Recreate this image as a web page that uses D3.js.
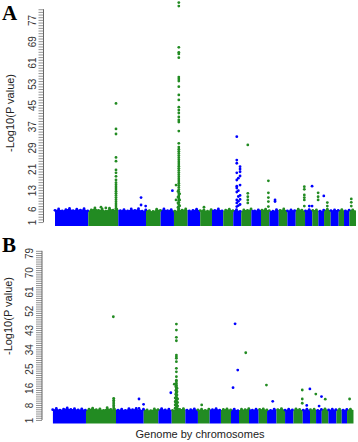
<!DOCTYPE html>
<html>
<head>
<meta charset="utf-8">
<script src="https://cdn.jsdelivr.net/npm/d3@7"></script>
<style>
  body { margin: 0; background: #fff; }
  svg text { font-family: "Liberation Sans", Arial, sans-serif; }
</style>
</head>
<body>
<div id="chart"></div>
<script>
// chromosome lengths (Mb) and alternating colours
const chromLen = [275, 248, 229, 121, 110, 113, 104, 97, 93, 83, 66, 83, 80,
                  69, 78, 71, 69, 77, 60, 50, 47, 55, 66, 44, 44, 55];
const chromColor = ["#0000FF", "#228B22"];

// y tick labels of the two panels
const ticksA = [1, 6, 13, 21, 29, 37, 45, 53, 61, 69, 77];
const ticksB = [1, 8, 16, 25, 34, 43, 52, 61, 70, 79];

// top of the dense band of non significant SNPs, one value every 30 Mb
const bandStep = 30;
const bandTopA = [5.4, 5.9, 5.2, 5.7, 6.1, 5.3, 5.8, 5.5, 6.0, 5.2, 5.6, 6.3, 5.4, 5.9,
  5.1, 6.2, 5.5, 5.8, 5.3, 5.7, 5.2, 5.9, 5.4, 6.0, 5.1, 5.6, 5.3, 5.0, 5.8, 5.4,
  5.9, 5.3, 5.7, 5.1, 5.6, 5.5, 5.9, 5.2, 5.4, 5.8, 5.3, 5.6, 5.1, 5.7, 5.4, 5.9,
  5.2, 5.5, 5.8, 5.3, 5.7, 5.0, 5.6, 5.4, 5.9, 5.2, 5.6, 5.5, 5.8, 5.3, 5.1, 5.7,
  5.4, 5.9, 5.2, 5.6, 5.3, 5.8, 5.5, 5.2, 5.7, 5.4, 5.6, 5.1, 5.5, 5.8, 5.3, 5.6,
  5.4, 5.7, 5.2, 5.5, 5.6, 5.3];
const bandTopB = [5.8, 6.4, 5.6, 6.1, 6.6, 5.9, 6.3, 5.7, 6.2, 5.6, 6.0, 6.5, 5.8, 6.2,
  5.5, 6.7, 5.9, 6.1, 5.6, 6.0, 5.5, 6.3, 5.8, 6.4, 5.5, 6.0, 5.7, 5.4, 6.2, 5.8,
  6.3, 5.7, 6.1, 5.5, 6.0, 5.9, 6.3, 5.6, 5.8, 6.2, 5.7, 6.0, 5.5, 6.1, 5.8, 6.3,
  5.6, 5.9, 6.2, 5.7, 6.1, 5.4, 6.0, 5.8, 6.3, 5.6, 6.0, 5.9, 6.2, 5.7, 5.5, 6.1,
  5.8, 6.3, 5.6, 6.0, 5.7, 6.2, 5.9, 5.6, 6.1, 5.8, 6.0, 5.5, 5.9, 6.2, 5.7, 6.0,
  5.8, 6.1, 5.6, 5.9, 6.0, 5.7];

// significant SNPs: [chromosome, position (Mb), -log10(P) values]
const hitsA = [
  [2, 229, [45.6, 36, 34.1, 25.3, 23.9, 20.6, 19.5, 18.2, 16.8, 15.8, 15, 14.2, 13.4,
            12.6, 11.8, 11, 10.2, 9.4, 8.6, 7.8, 7, 6.2]],
  [2, 105, [6.6]], [2, 145, [6.3]],
  [3, 188, [10.2, 7.4]], [3, 226, [7]],
  [5, 97, [12.8]],
  [6, 17, [14.9, 9.3]],
  [6, 40, [83.5, 82.2, 66.7, 64.8, 64.2, 62.8, 55.5, 54.8, 54, 51.9, 48.8, 46.9, 44.2,
           43.1, 42, 40.5, 39.4, 38.6, 35.2, 30.6, 29.2, 28.4, 27.6, 26.8, 26, 25.2,
           24.4, 23.6, 22.8, 22, 21.2, 20.4, 19.6, 18.8, 18, 17.2, 16.4, 15.6, 14.8,
           14, 13.2, 12.4, 11.6, 10.8, 10, 9.2, 8.4, 7.6, 6.8, 6]],
  [6, 33, [12.5, 10.4, 8.2, 6.5]], [6, 47, [11.6, 9.3, 7.1]],
  [8, 31, [6.6]],
  [11, 29, [33.1, 24.3, 23.1, 19.5, 16.8, 14.5, 13.8, 12.3, 9.3, 8.2, 6.8]],
  [11, 56, [21.8, 20.9, 19.9, 18.3, 14.9, 11, 9.5, 7.6]],
  [11, 42, [17.5, 12.8, 10.6, 8.8, 7.2]],
  [12, 54, [30, 11.8, 10.5, 9.3, 8.2]],
  [14, 61, [16.5, 12, 10.2, 8.7, 6.8]],
  [15, 47, [9.3, 8.7]],
  [18, 71, [14.3, 13.3, 11.2, 10.2, 9.3, 7]],
  [19, 35, [7]], [19, 58, [14.5, 7]],
  [20, 48, [12, 10.5, 9.3]],
  [21, 45, [10.8]],
  [22, 27, [8.3, 7]],
  [26, 16, [9.7, 8.4, 7]]
];
const hitsB = [
  [2, 226, [49.2]],
  [2, 229, [11.1, 10.2, 9.4, 8.6, 7.8, 7, 6.2]],
  [3, 190, [10.8, 6.4]], [3, 228, [8.3]],
  [5, 103, [13.7]],
  [6, 22, [17.7]],
  [6, 39, [45.8, 43, 39.6, 38, 31.3, 30.5, 29.8, 28.2, 25.1, 23.5, 21.2, 19.6, 18.8,
           18, 17.2, 16.4, 15.6, 14.8, 14, 13.2, 12.4, 11.6, 10.8, 10, 9.2, 8.4, 7.6,
           6.8, 6]],
  [6, 34, [16.5, 14.8, 13, 11.4, 9.8, 8.2, 6.6]], [6, 44, [15.8, 14.2, 12.6, 11, 9.4, 7.8, 6.4]],
  [6, 29, [11.2, 9.5, 8, 6.5]], [6, 49, [10.8, 9.1, 7.5, 6.2]],
  [8, 31, [8]],
  [11, 34, [45.9]], [11, 56, [24.3]], [11, 17, [16.1]],
  [12, 56, [32.4]],
  [14, 64, [17.3]],
  [15, 47, [9.7]],
  [18, 73, [15, 10.8, 8.8]],
  [19, 33, [7.8]], [19, 59, [15.5]],
  [20, 48, [13.1]],
  [21, 25, [7.5]], [21, 45, [11.9]],
  [22, 29, [10.7]],
  [26, 21, [10.8]]
];

const W = 358, H = 442;
const svg = d3.select("#chart").append("svg")
  .attr("width", W).attr("height", H)
  .style("background", "#fff");

// cumulative chromosome starts
const chromStart = [];
chromLen.reduce((acc, l) => { chromStart.push(acc); return acc + l; }, 0);
const genomeLen = d3.sum(chromLen);

function drawPanel(o) {
  const g = svg.append("g");
  const x = d3.scaleLinear().domain([0, genomeLen]).range(o.xRange);
  const y = d3.scaleLinear().domain([0, o.yMax]).range(o.yRange);
  const r = 1.4;

  // y axis: ruler of minor ticks, labels rotated
  const axis = g.append("g")
    .attr("transform", `translate(${o.axisX},0)`)
    .call(d3.axisLeft(y)
      .tickValues(d3.range(1, o.yMax + 1))
      .tickSize(o.tickLen)
      .tickSizeOuter(0)
      .tickFormat(d => o.ticks.includes(d) ? d : ""));
  axis.select(".domain").remove();
  axis.append("line")
    .attr("y1", y(1)).attr("y2", y(o.yMax))
    .attr("stroke", "#666");
  axis.selectAll(".tick line").attr("stroke", "#777").attr("stroke-width", 0.8);
  axis.selectAll(".tick text")
    .attr("transform", "rotate(-90)")
    .attr("x", 0).attr("dy", 0)
    .attr("y", -o.tickLen - 3)
    .attr("text-anchor", "middle")
    .attr("fill", "#333")
    .style("font-size", "10px");

  // y title
  g.append("text")
    .attr("transform", `translate(${o.titleX},${o.titleY}) rotate(-90)`)
    .attr("text-anchor", "middle")
    .style("font-size", "11px")
    .attr("fill", "#222")
    .text("-Log10(P value)");

  // panel letter
  g.append("text")
    .attr("x", 2).attr("y", o.letterY)
    .style("font-family", "'Liberation Serif', 'Times New Roman', serif")
    .style("font-weight", "bold")
    .style("font-size", "21px")
    .text(o.letter);

  // dense band per chromosome
  const samples = o.band.map((v, i) => [Math.min(i * bandStep, genomeLen), v]);
  const area = d3.area()
    .x(d => x(d[0]))
    .y0(y(0) + r)
    .y1(d => y(d[1]));
  chromLen.forEach((len, c) => {
    const id = `clip${o.letter}${c}`;
    g.append("clipPath").attr("id", id)
      .append("rect")
      .attr("x", x(chromStart[c])).attr("width", x(chromStart[c] + len) - x(chromStart[c]))
      .attr("y", 0).attr("height", H);
    g.append("path")
      .datum(samples)
      .attr("d", area)
      .attr("fill", chromColor[c % 2])
      .attr("clip-path", `url(#${id})`);
  });
  // bumps on top of the band
  g.selectAll(null).data(samples.filter(d => d[0] < genomeLen))
    .enter().append("circle")
    .attr("cx", d => x(d[0]))
    .attr("cy", d => y(d[1]))
    .attr("r", r)
    .attr("fill", d => chromColor[d3.bisectRight(chromStart, d[0]) - 1 & 1 ? 1 : 0]);

  // significant SNPs
  const pts = [];
  o.hits.forEach(([chr, pos, vals]) => vals.forEach(v => pts.push({chr, pos, v})));
  g.selectAll(null).data(pts).enter().append("circle")
    .attr("cx", d => x(chromStart[d.chr - 1] + d.pos))
    .attr("cy", d => y(d.v))
    .attr("r", r)
    .attr("fill", d => chromColor[(d.chr - 1) % 2]);
}

drawPanel({
  letter: "A", letterY: 20,
  xRange: [55, 356], yMax: 81, yRange: [224.7, 224.7 - 81 * 2.66],
  axisX: 43.5, tickLen: 5, ticks: ticksA,
  titleX: 14, titleY: 113,
  band: bandTopA, hits: hitsA
});

drawPanel({
  letter: "B", letterY: 252,
  xRange: [52.7, 353.7], yMax: 80, yRange: [422.1, 422.1 - 80 * 2.141],
  axisX: 42, tickLen: 6, ticks: ticksB,
  titleX: 12, titleY: 316,
  band: bandTopB, hits: hitsB
});

// x title
svg.append("text")
  .attr("x", 200).attr("y", 438)
  .attr("text-anchor", "middle")
  .style("font-size", "11px")
  .attr("fill", "#222")
  .text("Genome by chromosomes");
</script>
</body>
</html>
